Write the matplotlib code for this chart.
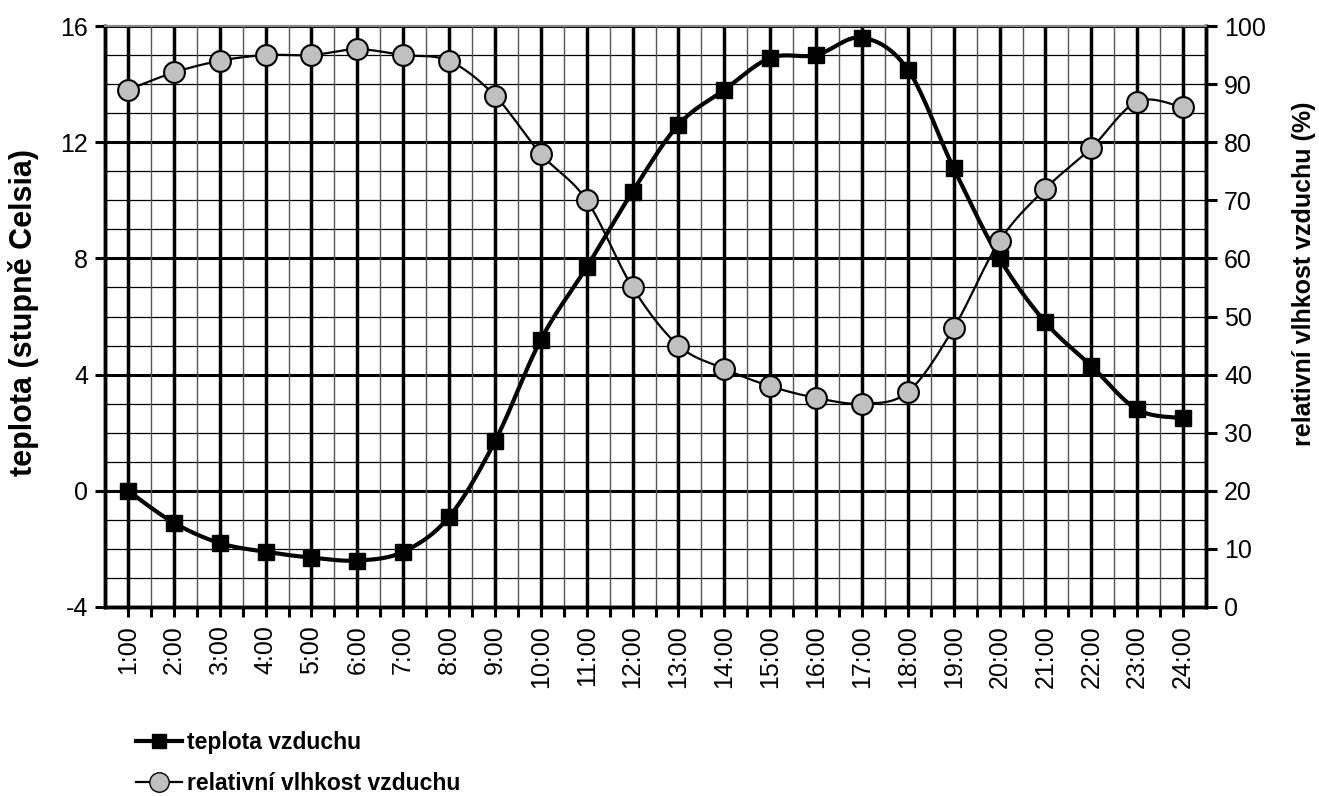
import numpy as np
import matplotlib
matplotlib.use("Agg")
import matplotlib.pyplot as plt
from matplotlib.ticker import MultipleLocator, FixedLocator
from matplotlib.lines import Line2D

plt.rcParams['font.family'] = ['Liberation Sans', 'DejaVu Sans']
plt.rcParams['axes.unicode_minus'] = False

hours = [f"{h}:00" for h in range(1, 25)]
temperature = [0.0, -1.1, -1.8, -2.1, -2.3, -2.4, -2.1, -0.9, 1.7, 5.2, 7.7, 10.3,
               12.6, 13.8, 14.9, 15.0, 15.6, 14.5, 11.1, 8.0, 5.8, 4.3, 2.8, 2.5]
humidity = [89, 92, 94, 95, 95, 96, 95, 94, 88, 78, 70, 55,
            45, 41, 38, 36, 35, 37, 48, 63, 72, 79, 87, 86]


def smooth(xs, ys, n=20):
    xs = np.asarray(xs, float)
    ys = np.asarray(ys, float)
    px = np.concatenate([[xs[0]], xs, [xs[-1]]])
    py = np.concatenate([[ys[0]], ys, [ys[-1]]])
    ox, oy = [], []
    t = np.linspace(0, 1, n, endpoint=False)
    for i in range(1, len(px) - 2):
        p0 = np.array([px[i], py[i]])
        p3 = np.array([px[i + 1], py[i + 1]])
        p1 = p0 + (np.array([px[i + 1], py[i + 1]]) - np.array([px[i - 1], py[i - 1]])) / 6
        p2 = p3 - (np.array([px[i + 2], py[i + 2]]) - np.array([px[i], py[i]])) / 6
        b = ((1 - t) ** 3)[:, None] * p0 + (3 * (1 - t) ** 2 * t)[:, None] * p1 \
            + (3 * (1 - t) * t ** 2)[:, None] * p2 + (t ** 3)[:, None] * p3
        ox.extend(b[:, 0]); oy.extend(b[:, 1])
    ox.append(xs[-1]); oy.append(ys[-1])
    return np.array(ox), np.array(oy)


fig = plt.figure(figsize=(13.19, 7.96), dpi=100)
ax = fig.add_axes([105 / 1319, 1 - 607 / 796, (1206 - 105) / 1319, (607 - 26) / 796])
ax2 = ax.twinx()

x = np.arange(len(hours))
ax.set_xlim(-0.5, len(hours) - 0.5)
ax.set_ylim(-4, 16)
ax2.set_ylim(0, 100)

# grid
for v in np.arange(-4, 16.01, 1):
    if v % 4 == 0:
        ax.axhline(v, color='black', lw=2.2, zorder=1)
    else:
        ax.axhline(v, color='black', lw=0.9, zorder=1)
for xi in x:
    ax.axvline(xi, color='black', lw=2.5, zorder=1)
for xb in np.arange(-0.5, len(hours), 1.0):
    ax.axvline(xb, color='#555555', lw=1.0, zorder=1)

ax.xaxis.set_major_locator(FixedLocator(x))
ax.xaxis.set_minor_locator(FixedLocator(np.arange(0.5, len(hours) - 1, 1.0)))
ax.set_xticklabels(hours, rotation=90, fontsize=18)
ax.yaxis.set_major_locator(MultipleLocator(4))
ax.yaxis.set_minor_locator(plt.NullLocator())
ax2.yaxis.set_major_locator(MultipleLocator(10))
ax.tick_params(axis='x', which='both', length=7, width=2.2, direction='out', pad=6)
ax.tick_params(axis='y', length=7, width=2.2, labelsize=18, pad=5)
ax2.tick_params(axis='y', length=8, width=2.2, labelsize=18, pad=5)

for a in (ax, ax2):
    for s in ('left', 'right', 'bottom'):
        a.spines[s].set_linewidth(2.5)
    a.spines['top'].set_color('#888888')
    a.spines['top'].set_linewidth(1.5)

tx, ty = smooth(x, temperature)
ax.plot(tx, ty, color='black', lw=3, zorder=3)
ax.plot(x, temperature, ls='none', marker='s', ms=12, mfc='black', mec='black', zorder=4)

hx, hy = smooth(x, humidity)
ax2.plot(hx, hy, color='black', lw=1.6, zorder=3)
ax2.plot(x, humidity, ls='none', marker='o', ms=15, mfc='#c0c0c0', mec='black', mew=1.5, zorder=4)

fig.text(24 / 1319, 1 - 313 / 796, 'teplota (stupně Celsia)', rotation=90,
         ha='center', va='center', fontsize=22, fontweight='bold')
fig.text(1304 / 1319, 1 - 274 / 796, 'relativní vlhkost vzduchu (%)', rotation=90,
         ha='center', va='center', fontsize=18, fontweight='bold')

handles = [
    Line2D([], [], color='black', lw=3, marker='s', ms=10, mfc='black'),
    Line2D([], [], color='black', lw=1.6, marker='o', ms=14, mfc='#c0c0c0', mec='black'),
]
fig.legend(handles, ['teplota vzduchu', 'relativní vlhkost vzduchu'],
           loc='upper left', bbox_to_anchor=(125 / 1319, 1 - 720 / 796),
           frameon=False, prop={'size': 16.5, 'weight': 'bold'},
           handlelength=2.0, handletextpad=0.2, labelspacing=0.75, borderpad=0)

fig.savefig('out.png', dpi=100)
